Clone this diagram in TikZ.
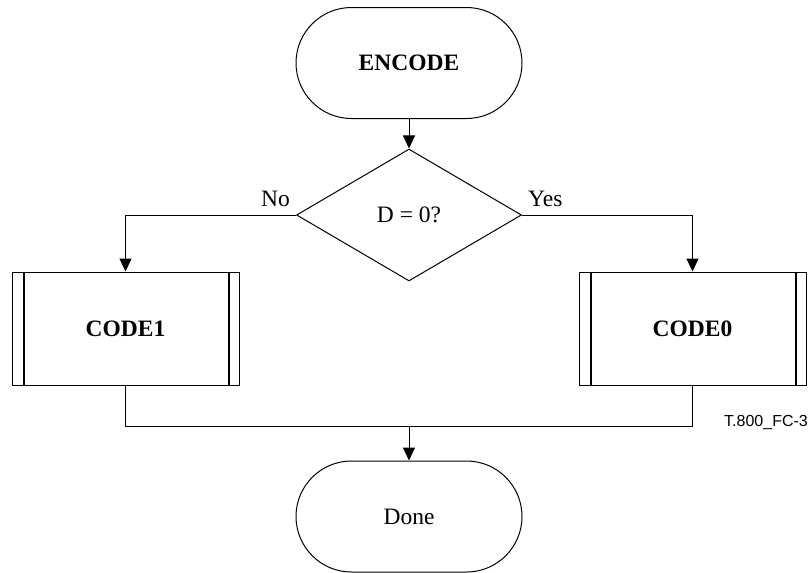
\documentclass[tikz,border=0pt]{standalone}
\usepackage{fontspec}
\setmainfont{Liberation Serif}
\newfontfamily\labelsans{Liberation Sans}
\usetikzlibrary{shapes.geometric,arrows.meta}
\tikzset{
  terminal/.style={draw, line width=1pt, rounded corners=55.5pt, minimum width=226pt, minimum height=111pt, inner sep=0pt, font=\fontsize{23.5pt}{28pt}\selectfont},
  decision/.style={draw, line width=1pt, diamond, aspect=1.705, minimum width=225pt, minimum height=132pt, inner sep=0pt, font=\fontsize{23.5pt}{28pt}\selectfont},
  subproc/.style={draw, line width=1pt, rectangle, minimum width=227pt, minimum height=113pt, inner sep=0pt, font=\bfseries\fontsize{23.5pt}{28pt}\selectfont},
  innerbar/.style={line width=2pt},
  conn/.style={line width=1pt},
  arrow/.style={conn, -{Triangle[length=13pt,width=12pt]}},
  branchlabel/.style={inner sep=0pt, font=\fontsize{23.5pt}{28pt}\selectfont},
}
\begin{document}
\begin{tikzpicture}[x=1pt,y=-1pt]
\useasboundingbox (0,0) rectangle (809,573);
\node[terminal, font=\bfseries\fontsize{23.5pt}{28pt}\selectfont] (enc) at (409,63) {ENCODE};
\node[decision] (dec) at (409,215) {D = 0?};
\node[subproc] (c1) at (125.5,328.5) {CODE1};
\node[subproc] (c0) at (692.5,328.5) {CODE0};
\node[terminal] (done) at (409,516.5) {Done};
\coordinate (m) at (409,426);
% inner bars of subroutine boxes
\draw[innerbar] ([xshift=12pt]c1.north west) -- ([xshift=12pt]c1.south west);
\draw[innerbar] ([xshift=-11pt]c1.north east) -- ([xshift=-11pt]c1.south east);
\draw[innerbar] ([xshift=12pt]c0.north west) -- ([xshift=12pt]c0.south west);
\draw[innerbar] ([xshift=-11pt]c0.north east) -- ([xshift=-11pt]c0.south east);
% connectors
\draw[arrow] (enc) -- (dec);
\draw[arrow] (dec.west) -| (c1.north);
\draw[arrow] (dec.east) -| (c0.north);
\draw[conn] (c1.south) -- (c1.south |- m) -- (c0.south |- m) -- (c0.south);
\draw[arrow] (m) -- (done);
% labels
\node[branchlabel, anchor=base east] (nolab) at (290,206) {No};
\node[branchlabel, anchor=base west] (yeslab) at (528,206) {Yes};
\node[inner sep=0pt, anchor=base east, font=\labelsans\fontsize{16pt}{19pt}\selectfont] (fig) at (808,426) {T.800\_FC-3};
\end{tikzpicture}
\end{document}
